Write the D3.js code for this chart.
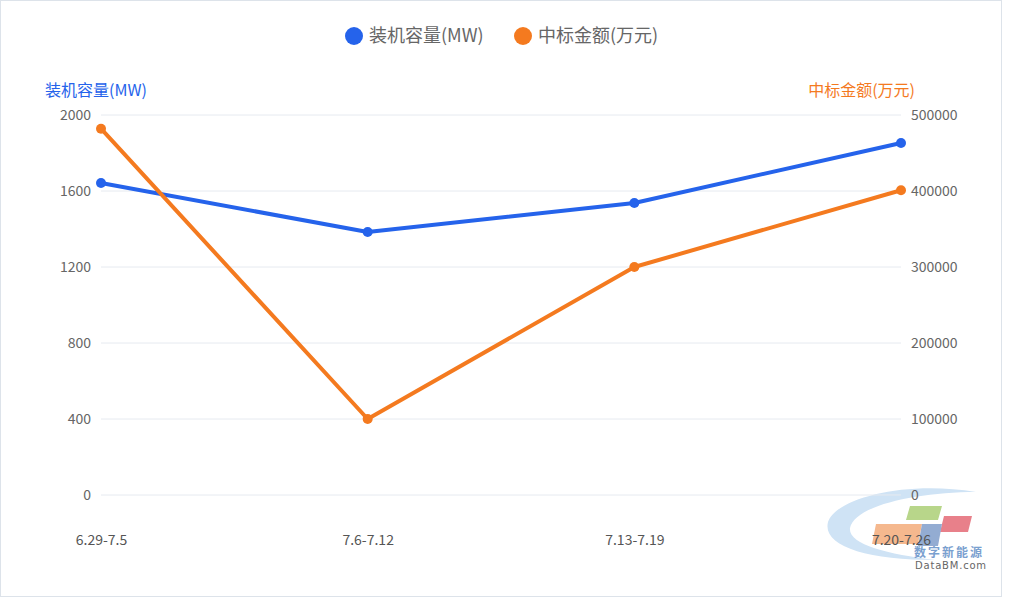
<!DOCTYPE html>
<html>
<head>
<meta charset="utf-8">
<script src="https://cdn.jsdelivr.net/npm/d3@7"></script>
<style>
  body { margin: 0; background: #fff; }
  #chart { width: 1010px; height: 597px; }
</style>
</head>
<body>
<div id="chart"></div>
<script>
const weeks = ["6.29-7.5", "7.6-7.12", "7.13-7.19", "7.20-7.26"];
const capacity = [1642, 1384, 1537, 1853];       // 装机容量(MW)
const bidAmount = [482000, 100000, 300000, 401000]; // 中标金额(万元)
const leftTicks = [0, 400, 800, 1200, 1600, 2000];
const rightTicks = [0, 100000, 200000, 300000, 400000, 500000];
const seriesNames = ["装机容量(MW)", "中标金额(万元)"];

const width = 1010, height = 597;
const blue = "#2563eb", orange = "#f47a1f";
const font = "'Noto Sans CJK SC', 'Noto Sans', sans-serif";

const svg = d3.select("#chart").append("svg")
  .attr("width", width)
  .attr("height", height);

// light frame round the chart
svg.append("rect")
  .attr("x", 0.5).attr("y", 0.5)
  .attr("width", 1001).attr("height", 596)
  .attr("fill", "#fff")
  .attr("stroke", "#dde3ea");

const x = d3.scalePoint().domain(weeks).range([101, 901]);
const yLeft = d3.scaleLinear().domain([0, 2000]).range([495, 115]);
const yRight = d3.scaleLinear().domain([0, 500000]).range([495, 115]);

// watermark logo (drawn under the chart)
const logo = svg.append("g").attr("transform", "translate(826, 488)");
logo.append("path")
  .attr("d", "M150,4 C80,-8 10,10 2,34 C-4,58 40,72 110,72 C60,66 22,56 24,40 C28,18 90,4 150,4 Z")
  .attr("fill", "#cfe3f5");
const para = (px, py, w, h, color) => logo.append("path")
  .attr("d", `M${px + 4},${py} L${px + w + 4},${py} L${px + w},${py + h} L${px},${py + h} Z`)
  .attr("fill", color);
para(80, 18, 32, 14, "#b8d68a");
para(114, 28, 28, 16, "#e8808a");
para(46, 36, 46, 20, "#f5b88e");
para(92, 36, 20, 22, "#93acd2");
logo.append("text")
  .attr("x", 88).attr("y", 69)
  .attr("font-family", font).attr("font-size", 12).attr("font-weight", "bold")
  .attr("letter-spacing", 2)
  .attr("fill", "#7aa0cf")
  .text("数字新能源");
logo.append("text")
  .attr("x", 89).attr("y", 81)
  .attr("font-family", "'DejaVu Sans', sans-serif").attr("font-size", 10)
  .attr("letter-spacing", 0.8)
  .attr("fill", "#666")
  .text("DataBM.com");

// grid lines
svg.append("g")
  .selectAll("line")
  .data(leftTicks)
  .join("line")
  .attr("x1", 101).attr("x2", 901)
  .attr("y1", d => yLeft(d)).attr("y2", d => yLeft(d))
  .attr("stroke", "#e6eaf0")
  .attr("stroke-width", 1);

// left axis labels
const leftAxis = svg.append("g")
  .attr("transform", "translate(101,0)")
  .call(d3.axisLeft(yLeft).tickValues(leftTicks).tickFormat(d3.format("d"))
    .tickSize(0).tickPadding(10));
leftAxis.select(".domain").remove();
leftAxis.selectAll("text")
  .attr("font-family", font).attr("font-size", 14).attr("fill", "#666");

// right axis labels
const rightAxis = svg.append("g")
  .attr("transform", "translate(901,0)")
  .call(d3.axisRight(yRight).tickValues(rightTicks).tickFormat(d3.format("d"))
    .tickSize(0).tickPadding(10));
rightAxis.select(".domain").remove();
rightAxis.selectAll("text")
  .attr("font-family", font).attr("font-size", 14).attr("fill", "#666");

// bottom axis labels
const bottomAxis = svg.append("g")
  .attr("transform", "translate(0,495)")
  .call(d3.axisBottom(x).tickSize(0).tickPadding(40));
bottomAxis.select(".domain").remove();
bottomAxis.selectAll("text")
  .attr("font-family", font).attr("font-size", 14).attr("fill", "#555");

// axis names
svg.append("text")
  .attr("x", 45).attr("y", 96)
  .attr("font-family", font).attr("font-size", 16)
  .attr("fill", blue)
  .text(seriesNames[0]);
svg.append("text")
  .attr("x", 915).attr("y", 96)
  .attr("text-anchor", "end")
  .attr("font-family", font).attr("font-size", 16)
  .attr("fill", orange)
  .text(seriesNames[1]);

// lines
const series = [
  { values: capacity, scale: yLeft, color: blue },
  { values: bidAmount, scale: yRight, color: orange }
];
series.forEach(s => {
  const line = d3.line()
    .x((d, i) => x(weeks[i]))
    .y(d => s.scale(d));
  svg.append("path")
    .datum(s.values)
    .attr("d", line)
    .attr("fill", "none")
    .attr("stroke", s.color)
    .attr("stroke-width", 4)
    .attr("stroke-linejoin", "round");
  svg.append("g")
    .selectAll("circle")
    .data(s.values)
    .join("circle")
    .attr("cx", (d, i) => x(weeks[i]))
    .attr("cy", d => s.scale(d))
    .attr("r", 5)
    .attr("fill", s.color);
});

// legend
const legendX = [354, 523];
const legend = svg.append("g");
seriesNames.forEach((name, i) => {
  legend.append("circle")
    .attr("cx", legendX[i]).attr("cy", 36).attr("r", 9)
    .attr("fill", i === 0 ? blue : orange);
  legend.append("text")
    .attr("x", legendX[i] + 15).attr("y", 42)
    .attr("font-family", font).attr("font-size", 18)
    .attr("fill", "#666")
    .text(name);
});
</script>
</body>
</html>
